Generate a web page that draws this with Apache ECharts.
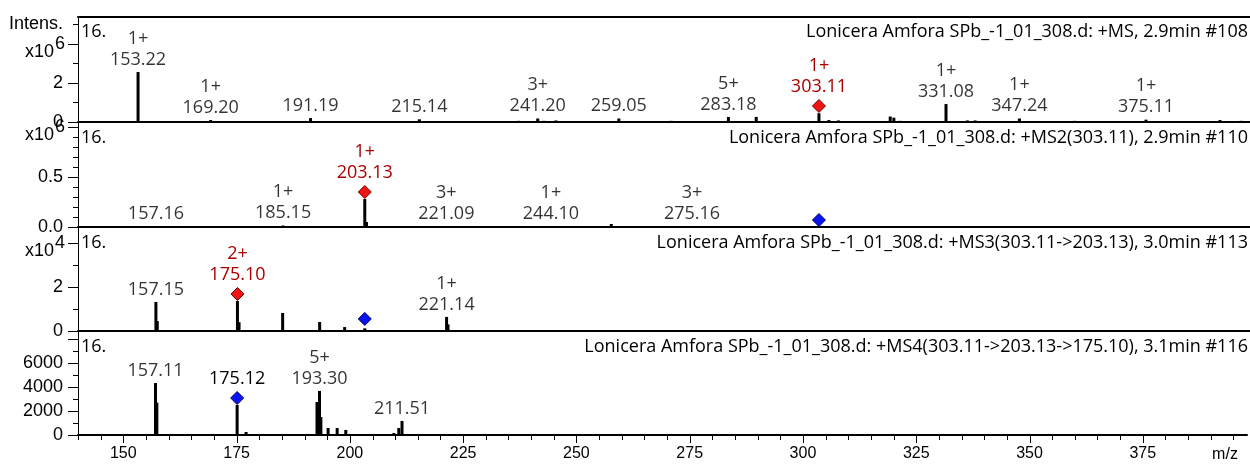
<!DOCTYPE html>
<html><head><meta charset="utf-8">
<script src="https://cdn.jsdelivr.net/npm/echarts@6/dist/echarts.min.js"></script>
<style>html,body{margin:0;padding:0;background:#fff}#c{width:1250px;height:465px}</style>
</head><body><div id="c"></div>
<script>
// ===================== DATA =====================
const X_MIN = 140, X_MAX = 398;
const xMajorTicks = [150, 175, 200, 225, 250, 275, 300, 325, 350, 375];
const xMinorTicks = [140, 145, 155, 160, 165, 170, 180, 185, 190, 195, 205, 210, 215, 220, 230, 235, 240, 245,
  255, 260, 265, 270, 280, 285, 290, 295, 305, 310, 315, 320, 330, 335, 340, 345, 355, 360, 365, 370, 380, 385, 390, 395];
const xMajorStep = 25;
const xAxisName = 'm/z';

const panelTitles = [
  'Lonicera Amfora SPb_-1_01_308.d: +MS, 2.9min #108',
  'Lonicera Amfora SPb_-1_01_308.d: +MS2(303.11), 2.9min #110',
  'Lonicera Amfora SPb_-1_01_308.d: +MS3(303.11->203.13), 3.0min #113',
  'Lonicera Amfora SPb_-1_01_308.d: +MS4(303.11->203.13->175.10), 3.1min #116'
];
const panelTags = ['16.', '16.', '16.', '16.'];
const yAxisTitle = 'Intens.';

// y-axis scales (panel 1,2: x10^6, panel 3: x10^4, panel 4: raw)
const yMax = [5.38, 1.04, 4.68, 8580];
const yLabelStep = [1, 0.5, 2, 2000];
const yMajorTicks = [[0, 2, 4], [0, 0.5, 1.0], [0, 2, 4], [0, 2000, 4000, 6000, 8000]];
const yMinorTicks = [[1, 3, 5], [0.1, 0.2, 0.3, 0.4, 0.6, 0.7, 0.8, 0.9], [1, 3], [1000, 3000, 5000, 7000]];
const yTickLabels = [['0', '2'], ['0.0', '0.5'], ['0', '2'], ['0', '2000', '4000', '6000']];
const yTickLabelValues = [[0, 2], [0, 0.5], [0, 2], [0, 2000, 4000, 6000]];
const yExponent = ['6', '6', '4', null];
const yExponentAt = [4, 1.0, 4, null];
const yTitleAt = 5;

// ---- Panel 1: +MS (x10^6) ----
const ms1LabelMz = [153.22, 169.20, 191.19, 215.14, 241.20, 259.05, 283.18, 331.08, 347.24, 375.11];
const ms1LabelText = ['153.22', '169.20', '191.19', '215.14', '241.20', '259.05', '283.18', '331.08', '347.24', '375.11'];
const ms1LabelCharge = ['1+', '1+', '', '', '3+', '', '5+', '1+', '1+', '1+'];
const ms1LabelInt = [2.56, 0.10, 0.20, 0.14, 0.18, 0.18, 0.26, 0.92, 0.18, 0.12];
const ms1OtherMz = [157.5, 163.0, 178.0, 186.0, 199.0, 206.0, 227.0, 233.0, 237.0, 239.5, 242.6, 245.2, 250.0, 265.0, 270.6, 279.0, 289.3, 294.0, 297.0, 303.11, 305.3, 307.4, 312.0, 318.8, 319.6, 321.0, 325.0, 328.0, 335.8, 337.5, 341.0, 353.0, 359.4, 366.0, 370.0, 382.0, 387.0, 391.4, 396.0];
const ms1OtherInt = [0.05, 0.03, 0.03, 0.04, 0.04, 0.03, 0.04, 0.03, 0.06, 0.05, 0.06, 0.08, 0.04, 0.04, 0.06, 0.05, 0.26, 0.04, 0.05, 0.45, 0.10, 0.08, 0.05, 0.28, 0.22, 0.06, 0.05, 0.04, 0.08, 0.08, 0.04, 0.04, 0.06, 0.04, 0.03, 0.04, 0.04, 0.10, 0.06];
const ms1RedMz = [303.11], ms1RedInt = [0.82], ms1RedText = ['303.11'], ms1RedCharge = ['1+'];
const ms1BlueMz = [], ms1BlueInt = [], ms1BlueText = [], ms1BlueCharge = [];

// ---- Panel 2: +MS2 (x10^6) ----
const ms2LabelMz = [157.16, 185.15, 221.09, 244.10, 275.16];
const ms2LabelText = ['157.16', '185.15', '221.09', '244.10', '275.16'];
const ms2LabelCharge = ['', '1+', '3+', '1+', '3+'];
const ms2LabelInt = [0.01, 0.015, 0.01, 0.01, 0.01];
const ms2OtherMz = [203.13, 203.5, 257.4, 303.11];
const ms2OtherInt = [0.28, 0.05, 0.03, 0.01];
const ms2RedMz = [203.13], ms2RedInt = [0.35], ms2RedText = ['203.13'], ms2RedCharge = ['1+'];
const ms2BlueMz = [303.11], ms2BlueInt = [0.07], ms2BlueText = [''], ms2BlueCharge = [''];

// ---- Panel 3: +MS3 (x10^4) ----
const ms3LabelMz = [157.15, 221.14];
const ms3LabelText = ['157.15', '221.14'];
const ms3LabelCharge = ['', '1+'];
const ms3LabelInt = [1.32, 0.64];
const ms3OtherMz = [157.45, 175.10, 175.45, 185.05, 193.2, 198.7, 203.13, 221.45];
const ms3OtherInt = [0.45, 1.36, 0.40, 0.82, 0.41, 0.18, 0.12, 0.30];
const ms3RedMz = [175.10], ms3RedInt = [1.68], ms3RedText = ['175.10'], ms3RedCharge = ['2+'];
const ms3BlueMz = [203.13], ms3BlueInt = [0.55], ms3BlueText = [''], ms3BlueCharge = [''];

// ---- Panel 4: +MS4 (raw) ----
const ms4LabelMz = [157.11, 193.30, 211.51];
const ms4LabelText = ['157.11', '193.30', '211.51'];
const ms4LabelCharge = ['', '5+', ''];
const ms4LabelInt = [4330, 3670, 1170];
const ms4OtherMz = [157.4, 175.12, 177.1, 192.75, 193.6, 195.2, 197.2, 199.1, 209.7, 210.8];
const ms4OtherInt = [2700, 2500, 250, 2750, 1500, 580, 580, 420, 170, 580];
const ms4RedMz = [], ms4RedInt = [], ms4RedText = [], ms4RedCharge = [];
const ms4BlueMz = [175.12], ms4BlueInt = [3080], ms4BlueText = ['175.12'], ms4BlueCharge = [''];

// ===================== BUILD =====================
const panels = [
  {lm: ms1LabelMz, lt: ms1LabelText, lc: ms1LabelCharge, li: ms1LabelInt, om: ms1OtherMz, oi: ms1OtherInt,
   rm: ms1RedMz, ri: ms1RedInt, rt: ms1RedText, rc: ms1RedCharge, bm: ms1BlueMz, bi: ms1BlueInt, bt: ms1BlueText, bc: ms1BlueCharge},
  {lm: ms2LabelMz, lt: ms2LabelText, lc: ms2LabelCharge, li: ms2LabelInt, om: ms2OtherMz, oi: ms2OtherInt,
   rm: ms2RedMz, ri: ms2RedInt, rt: ms2RedText, rc: ms2RedCharge, bm: ms2BlueMz, bi: ms2BlueInt, bt: ms2BlueText, bc: ms2BlueCharge},
  {lm: ms3LabelMz, lt: ms3LabelText, lc: ms3LabelCharge, li: ms3LabelInt, om: ms3OtherMz, oi: ms3OtherInt,
   rm: ms3RedMz, ri: ms3RedInt, rt: ms3RedText, rc: ms3RedCharge, bm: ms3BlueMz, bi: ms3BlueInt, bt: ms3BlueText, bc: ms3BlueCharge},
  {lm: ms4LabelMz, lt: ms4LabelText, lc: ms4LabelCharge, li: ms4LabelInt, om: ms4OtherMz, oi: ms4OtherInt,
   rm: ms4RedMz, ri: ms4RedInt, rt: ms4RedText, rc: ms4RedCharge, bm: ms4BlueMz, bi: ms4BlueInt, bt: ms4BlueText, bc: ms4BlueCharge}
];

const GRID_LEFT = 78;
const gridTops = [17, 123, 228, 332];
const gridHeights = [105, 104, 103, 103];
const PEAK_FONT = '"Open Sans", "Noto Sans", sans-serif';
const AXIS_FONT = '"Liberation Sans", Arial, sans-serif';
const PEAK_SIZE = 18, TITLE_SIZE = 18, AXIS_SIZE = 18, XLABEL_SIZE = 16;
const Y_MAJOR_LEN = 10, Y_MINOR_LEN = 5, X_MAJOR_LEN = 7, X_MINOR_LEN = 4;

const grids = gridTops.map((t, k) => ({left: GRID_LEFT, right: 0, top: t, height: gridHeights[k], containLabel: false}));
const near = (a, b) => Math.abs(a - b) < 1e-6;

const xAxes = [];
for (let k = 0; k < 4; k++) {
  const last = k === 3;
  xAxes.push({
    gridIndex: k, type: 'value', min: X_MIN, max: X_MAX, position: 'bottom',
    minInterval: xMajorStep, maxInterval: xMajorStep,
    axisLine: {show: true, onZero: false, lineStyle: {color: '#000', width: 2}},
    axisTick: {show: false},
    axisLabel: last ? {show: true, margin: 11, color: '#000', fontFamily: AXIS_FONT, fontSize: XLABEL_SIZE,
      formatter: v => xMajorTicks.some(t => near(t, v)) ? String(Math.round(v)) : ''} : {show: false},
    splitLine: {show: false}
  });
}
// index 4: top border of first panel
xAxes.push({
  gridIndex: 0, type: 'value', min: X_MIN, max: X_MAX, position: 'top',
  axisLine: {show: true, onZero: false, lineStyle: {color: '#000', width: 2}},
  axisTick: {show: false}, axisLabel: {show: false}, splitLine: {show: false}
});

const yAxes = [];
for (let k = 0; k < 4; k++) {
  const labVals = yTickLabelValues[k], labTxt = yTickLabels[k];
  yAxes.push({
    gridIndex: k, type: 'value', min: 0, max: yMax[k], interval: yLabelStep[k], position: 'left',
    axisLine: {show: true, onZero: false, lineStyle: {color: '#000', width: 1}},
    axisTick: {show: false},
    axisLabel: {show: true, margin: 15, color: '#000', fontFamily: AXIS_FONT, fontSize: AXIS_SIZE,
      formatter: v => {
        if (k === 0 && near(v, yTitleAt)) return yAxisTitle;
        const i = labVals.findIndex(x => near(x, v)); return i >= 0 ? labTxt[i] : '';
      }},
    splitLine: {show: false}
  });
}

function labelFormatter(p) {
  const d = p.data;
  return (d.charge ? d.charge + '\n' : '') + d.name;
}

const series = [];
panels.forEach((P, k) => {
  const bars = [];
  P.lm.forEach((m, i) => bars.push([m, P.li[i]]));
  P.om.forEach((m, i) => bars.push([m, P.oi[i]]));
  bars.sort((a, b) => a[0] - b[0]);
  series.push({type: 'bar', xAxisIndex: k, yAxisIndex: k, data: bars, barWidth: 3,
    itemStyle: {color: '#000'}, silent: true, animation: false, z: 2});
  series.push({type: 'scatter', xAxisIndex: k, yAxisIndex: k, symbolSize: 0, silent: true, animation: false, z: 3,
    data: P.lm.map((m, i) => ({value: [m, P.li[i]], name: P.lt[i], charge: P.lc[i]})),
    label: {show: true, position: 'top', distance: 2, formatter: labelFormatter, color: '#000',
      fontFamily: PEAK_FONT, fontSize: PEAK_SIZE, lineHeight: 21, align: 'center'}});
  if (P.rm.length) series.push({type: 'scatter', xAxisIndex: k, yAxisIndex: k, symbol: 'diamond', symbolSize: 13, silent: true, animation: false, z: 4,
    itemStyle: {color: '#f01414', borderColor: '#6e0000', borderWidth: 1, opacity: 1},
    data: P.rm.map((m, i) => ({value: [m, P.ri[i]], name: P.rt[i], charge: P.rc[i]})),
    label: {show: true, position: 'top', distance: 2, formatter: labelFormatter, color: '#a80000',
      fontFamily: PEAK_FONT, fontSize: PEAK_SIZE, lineHeight: 21, align: 'center'}});
  if (P.bm.length) series.push({type: 'scatter', xAxisIndex: k, yAxisIndex: k, symbol: 'diamond', symbolSize: 13, silent: true, animation: false, z: 4,
    itemStyle: {color: '#0a14f0', borderColor: '#00005a', borderWidth: 1, opacity: 1},
    data: P.bm.map((m, i) => ({value: [m, P.bi[i]], name: P.bt[i], charge: P.bc[i]})),
    label: {show: true, position: 'top', distance: 2, formatter: labelFormatter, color: '#000',
      fontFamily: PEAK_FONT, fontSize: PEAK_SIZE, lineHeight: 21, align: 'center'}});
});

const chart = echarts.init(document.getElementById('c'), null, {renderer: 'canvas'});
chart.setOption({animation: false, backgroundColor: '#fff', grid: grids, xAxis: xAxes, yAxis: yAxes, series: series});

// ---- overlays (tick marks and texts) positioned through the axes' scales ----
const graphics = [];
function tickRect(x, y, w, h) {
  graphics.push({type: 'rect', silent: true, z: 20,
    shape: {x: x, y: y, width: w, height: h}, style: {fill: '#000'}});
}
for (let k = 0; k < 4; k++) {
  const ax = Math.round(chart.convertToPixel({xAxisIndex: k}, X_MIN));
  yMajorTicks[k].forEach(v => {
    const y = Math.round(chart.convertToPixel({yAxisIndex: k}, v));
    tickRect(ax - Y_MAJOR_LEN, y, Y_MAJOR_LEN, 1);
  });
  yMinorTicks[k].forEach(v => {
    const y = Math.round(chart.convertToPixel({yAxisIndex: k}, v));
    tickRect(ax - Y_MINOR_LEN, y, Y_MINOR_LEN, 1);
  });
  graphics.push({type: 'text', x: GRID_LEFT + 3, y: gridTops[k] + 15, silent: true, z: 10,
    style: {text: panelTags[k], fill: '#000', font: PEAK_SIZE + 'px ' + PEAK_FONT, align: 'left', verticalAlign: 'middle'}});
  graphics.push({type: 'text', x: 1248, y: gridTops[k] + 15, silent: true, z: 10,
    style: {text: panelTitles[k], fill: '#000', font: TITLE_SIZE + 'px ' + PEAK_FONT, align: 'right', verticalAlign: 'middle'}});
  if (yExponent[k]) {
    const py = chart.convertToPixel({yAxisIndex: k}, yExponentAt[k]);
    graphics.push({type: 'text', x: 54, y: py + 8, silent: true, z: 10,
      style: {text: 'x10', fill: '#000', font: AXIS_SIZE + 'px ' + AXIS_FONT, align: 'right', verticalAlign: 'middle'}});
    graphics.push({type: 'text', x: 55, y: py, silent: true, z: 10,
      style: {text: yExponent[k], fill: '#000', font: AXIS_SIZE + 'px ' + AXIS_FONT, align: 'left', verticalAlign: 'middle'}});
  }
}
const axY = Math.round(chart.convertToPixel({yAxisIndex: 3}, 0)) + 1;
xMajorTicks.forEach(v => {
  const x = Math.round(chart.convertToPixel({xAxisIndex: 3}, v));
  tickRect(x, axY, 1, X_MAJOR_LEN);
});
xMinorTicks.forEach(v => {
  const x = Math.round(chart.convertToPixel({xAxisIndex: 3}, v));
  tickRect(x, axY, 1, X_MINOR_LEN);
});
graphics.push({type: 'text', x: 1225, y: axY + 19, silent: true,
  style: {text: xAxisName, fill: '#000', font: XLABEL_SIZE + 'px ' + AXIS_FONT, align: 'center', verticalAlign: 'middle'}});
chart.setOption({graphic: graphics});
</script></body></html>
